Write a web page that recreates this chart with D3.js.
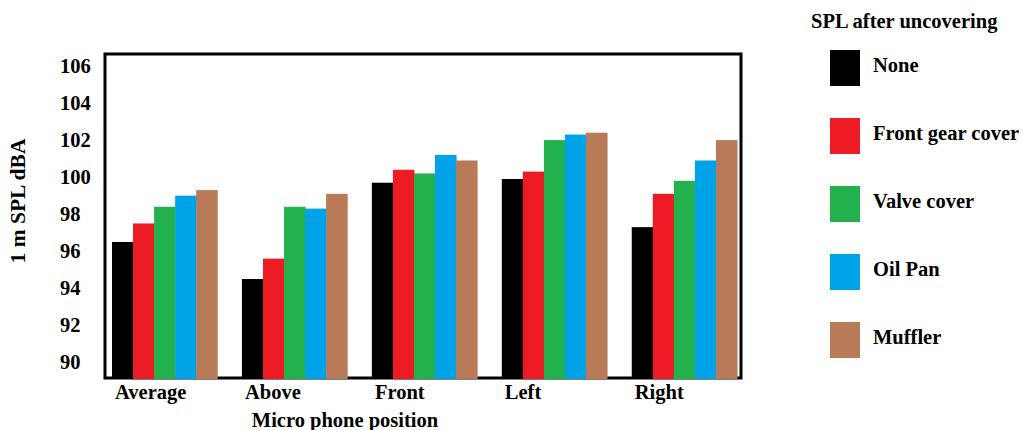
<!DOCTYPE html>
<html>
<head>
<meta charset="utf-8">
<script src="https://cdn.jsdelivr.net/npm/d3@7"></script>
<style>
  html, body { margin: 0; padding: 0; background: #ffffff; }
  svg { display: block; }
  text { font-family: "Liberation Serif", "Times New Roman", serif; font-weight: bold; fill: #000; }
</style>
</head>
<body>
<svg id="chart" width="1023" height="430"></svg>
<script>
// ---- data ----
const categories = ["Average", "Above", "Front", "Left", "Right"];
const seriesNames = ["None", "Front gear cover", "Valve cover", "Oil Pan", "Muffler"];
const seriesColors = ["#000000", "#ED1C24", "#22B14C", "#00A2E8", "#B97A57"];
const noneValues      = [96.5, 94.5, 99.7, 99.9, 97.3];
const frontGearValues = [97.5, 95.6, 100.4, 100.3, 99.1];
const valveValues     = [98.4, 98.4, 100.2, 102.0, 99.8];
const oilPanValues    = [99.0, 98.3, 101.2, 102.3, 100.9];
const mufflerValues   = [99.3, 99.1, 100.9, 102.4, 102.0];
const yTickValues = [90, 92, 94, 96, 98, 100, 102, 104, 106];
const yTitle = "1 m SPL dBA";
const xTitle = "Micro phone position";
const legendTitle = "SPL after uncovering";

const seriesValues = [noneValues, frontGearValues, valveValues, oilPanValues, mufflerValues];

// ---- layout ----
const svg = d3.select("#chart");
const frame = { left: 105, top: 54, right: 741, bottom: 378 };
const fs = "20.5px";

const x = d3.scaleBand().domain(categories).range([112, 737]).paddingInner(0.19).paddingOuter(0);
const xs = d3.scaleBand().domain(seriesNames).range([0, x.bandwidth()]).padding(0);
const y = d3.scaleLinear().domain([89.1, 106.65]).range([379, 54]);
const color = d3.scaleOrdinal().domain(seriesNames).range(seriesColors);

// frame
svg.append("rect")
  .attr("x", frame.left).attr("y", frame.top)
  .attr("width", frame.right - frame.left).attr("height", frame.bottom - frame.top)
  .attr("fill", "#ffffff").attr("stroke", "#000").attr("stroke-width", 3);

// bars
const rows = [];
categories.forEach((c, i) => {
  seriesNames.forEach((s, j) => rows.push({ cat: c, series: s, value: seriesValues[j][i] }));
});
svg.append("g").selectAll("rect").data(rows).join("rect")
  .attr("x", d => x(d.cat) + xs(d.series))
  .attr("width", xs.bandwidth() + 0.5)
  .attr("y", d => y(d.value))
  .attr("height", d => y(y.domain()[0]) - y(d.value))
  .attr("fill", d => color(d.series));

// y axis labels (left aligned)
const yAxis = d3.axisLeft(y).tickValues(yTickValues).tickSize(0).tickPadding(0);
const yg = svg.append("g").attr("transform", "translate(60,0)").call(yAxis);
yg.select(".domain").remove();
yg.selectAll("text")
  .attr("text-anchor", "start").attr("x", 0)
  .style("font-family", "'Liberation Serif', 'Times New Roman', serif")
  .style("font-weight", "bold").style("font-size", fs).attr("fill", "#000");

// x axis category labels (left aligned at group start)
const xAxis = d3.axisBottom(x).tickSize(0).tickPadding(0);
const xg = svg.append("g").call(xAxis);
xg.select(".domain").remove();
xg.selectAll(".tick").attr("transform", d => `translate(${x(d) + 3},384)`);
xg.selectAll("text")
  .attr("text-anchor", "start").attr("y", 0).attr("dy", "0.72em")
  .style("font-family", "'Liberation Serif', 'Times New Roman', serif")
  .style("font-weight", "bold").style("font-size", fs).attr("fill", "#000");

// axis titles
svg.append("text")
  .attr("transform", "translate(25,201) rotate(-90)")
  .attr("text-anchor", "middle")
  .style("font-size", "21.5px")
  .text(yTitle);

svg.append("text")
  .attr("x", 345).attr("y", 427)
  .attr("text-anchor", "middle")
  .style("font-size", fs)
  .text(xTitle);

// legend
svg.append("text")
  .attr("x", 811).attr("y", 28)
  .style("font-size", fs)
  .text(legendTitle);

const ly = d3.scalePoint().domain(seriesNames).range([68, 340]);
const lg = svg.append("g").selectAll("g").data(seriesNames).join("g")
  .attr("transform", d => `translate(0,${ly(d)})`);
lg.append("rect")
  .attr("x", 830).attr("y", -18)
  .attr("width", 30).attr("height", 36)
  .attr("fill", d => color(d));
lg.append("text")
  .attr("x", 873).attr("y", -3).attr("dy", "0.35em")
  .style("font-size", fs)
  .text(d => d);
</script>
</body>
</html>
